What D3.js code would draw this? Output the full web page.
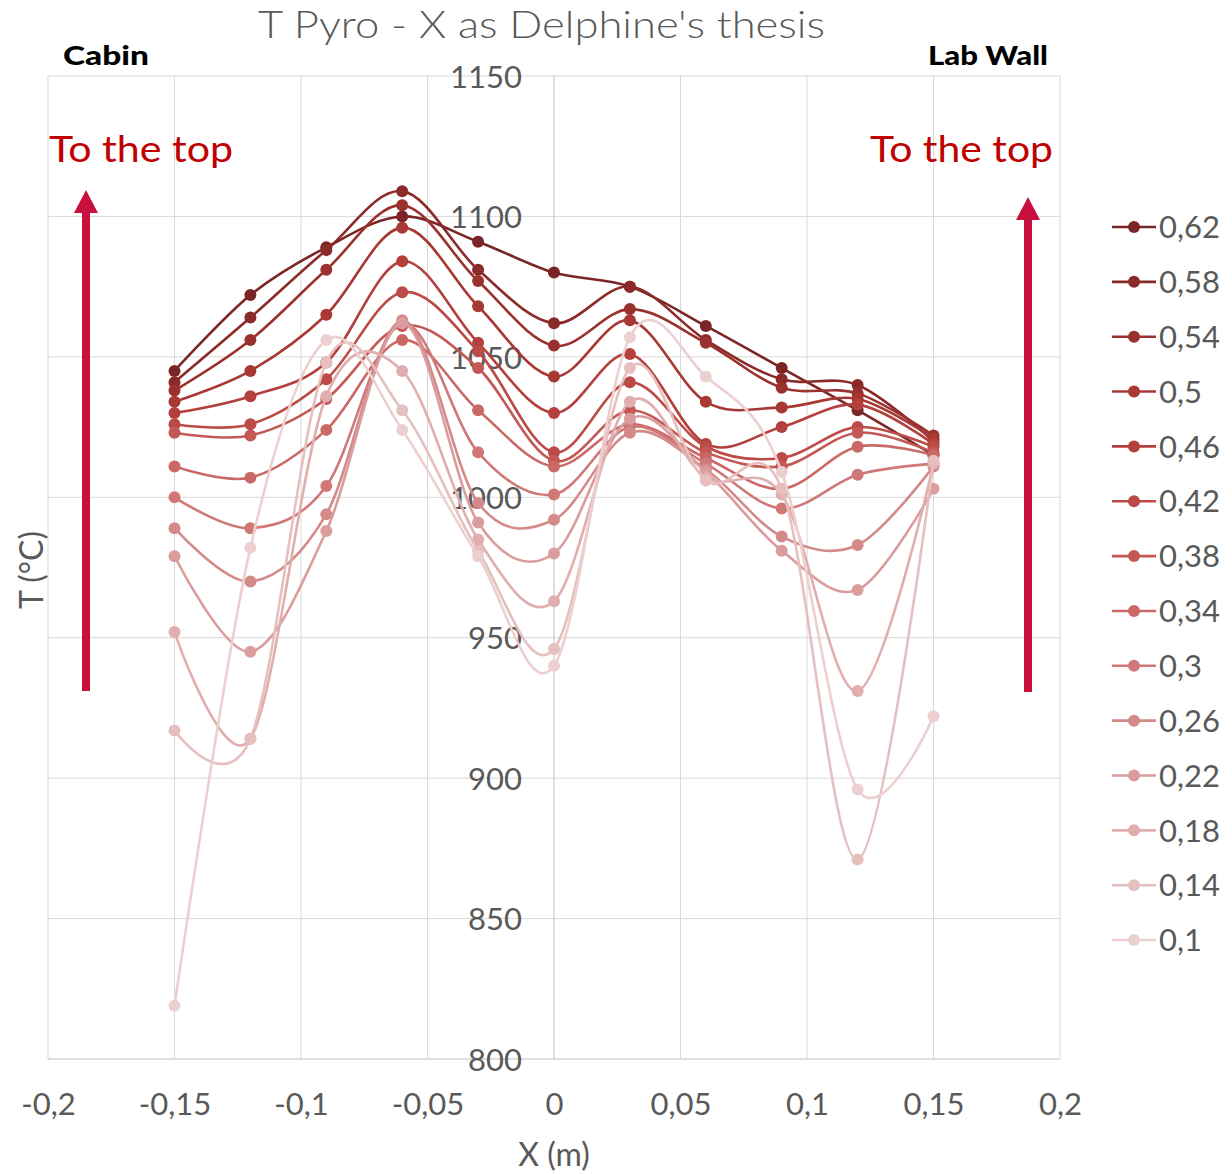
<!DOCTYPE html>
<html>
<head>
<meta charset="utf-8">
<script src="https://cdn.jsdelivr.net/npm/d3@7"></script>
<style>
  html, body { margin: 0; padding: 0; background: #fff; }
  svg { display: block; font-family: "Lato", "Noto Sans", sans-serif; }
</style>
</head>
<body>
<svg id="chart" width="1232" height="1174"></svg>
<script>
// Pyrometer temperature profiles across the furnace width, one curve per height (m)
const positions = [-0.15, -0.12, -0.09, -0.06, -0.03, 0, 0.03, 0.06, 0.09, 0.12, 0.15];

const heightLabels = ["0,62", "0,58", "0,54", "0,5", "0,46", "0,42", "0,38", "0,34", "0,3", "0,26", "0,22", "0,18", "0,14", "0,1"];

const t062 = [1045, 1072, 1089, 1100, 1091, 1080, 1075, 1061, 1046, 1031, 1015];
const t058 = [1041, 1064, 1088, 1109, 1081, 1062, 1075, 1056, 1042, 1040, 1020];
const t054 = [1038, 1056, 1081, 1104, 1077, 1054, 1067, 1055, 1039, 1037, 1022];
const t050 = [1034, 1045, 1065, 1096, 1068, 1043, 1063, 1034, 1032, 1035, 1021];
const t046 = [1030, 1036, 1048, 1084, 1055, 1030, 1051, 1019, 1025, 1033, 1019];
const t042 = [1026, 1026, 1042, 1073, 1052, 1016, 1041, 1018, 1014, 1025, 1018];
const t038 = [1023, 1022, 1035, 1061, 1046, 1013, 1031, 1016, 1011, 1023, 1016];
const t034 = [1011, 1007, 1024, 1056, 1031, 1011, 1026, 1014, 1003, 1018, 1015];
const t030 = [1000, 989, 1004, 1062, 1016, 1001, 1025, 1012, 996, 1008, 1012];
const t026 = [989, 970, 994, 1063, 998, 992, 1023, 1010, 986, 983, 1011];
const t022 = [979, 945, 988, 1062, 991, 980, 1028, 1009, 981, 967, 1003];
const t018 = [952, 914, 1036, 1045, 985, 963, 1034, 1007, 1001, 931, 1012];
const t014 = [917, 914, 1048, 1031, 981, 946, 1046, 1006, 1003, 871, 1013];
const t010 = [819, 982, 1056, 1024, 979, 940, 1057, 1043, 1009, 896, 922];

const seriesValues = [t062, t058, t054, t050, t046, t042, t038, t034, t030, t026, t022, t018, t014, t010];

const xTicks = [-0.2, -0.15, -0.1, -0.05, 0, 0.05, 0.1, 0.15, 0.2];
const yTicks = [800, 850, 900, 950, 1000, 1050, 1100, 1150];

const series = heightLabels.map((label, i) => ({
  label,
  points: positions.map((x, j) => ({ x, t: seriesValues[i][j] }))
}));

const svg = d3.select("#chart");

const x = d3.scaleLinear().domain([-0.2, 0.2]).range([48, 1060]);
const y = d3.scaleLinear().domain([800, 1150]).range([1059, 76]);

const colorRamp = d3.interpolateRgbBasis(["#7a2626", "#a5342f", "#c04a46", "#cf7474", "#dca4a4", "#ecd0d0"]);
const color = d3.scaleOrdinal()
  .domain(heightLabels)
  .range(heightLabels.map((d, i) => colorRamp(i / (heightLabels.length - 1))));

// Decimal comma with a plain hyphen for negatives
const fmtX = v => String(+v.toFixed(2)).replace(".", ",");

// Gridlines
const grid = svg.append("g");
grid.selectAll("line.h").data(yTicks).join("line")
  .attr("x1", x(-0.2)).attr("x2", x(0.2))
  .attr("y1", d => y(d)).attr("y2", d => y(d))
  .attr("stroke", d => d === 800 ? "#bfbfbf" : "#d9d9d9").attr("stroke-width", 1);
grid.selectAll("line.v").data(xTicks).join("line")
  .attr("x1", d => x(d)).attr("x2", d => x(d))
  .attr("y1", y(1150)).attr("y2", y(800))
  .attr("stroke", d => d === 0 ? "#bfbfbf" : "#d9d9d9").attr("stroke-width", 1);

// Y axis drawn at X = 0
const yAxis = d3.axisLeft(y).tickValues(yTicks).tickSize(0).tickPadding(32).tickFormat(d3.format("d"));
const yg = svg.append("g").attr("transform", `translate(${x(0)},0)`).call(yAxis);
yg.select(".domain").remove();
yg.selectAll("text").attr("font-size", 31).attr("fill", "#595959")
  .attr("font-family", "Lato, sans-serif").attr("dy", "0.36em");

// X axis along the bottom
const xAxis = d3.axisBottom(x).tickValues(xTicks).tickSize(0).tickPadding(34).tickFormat(fmtX);
const xg = svg.append("g").attr("transform", `translate(0,${y(800)})`).call(xAxis);
xg.select(".domain").remove();
xg.selectAll("text").attr("font-size", 31).attr("fill", "#595959")
  .attr("font-family", "Lato, sans-serif");

// Axis titles
svg.append("text").attr("x", x(0)).attr("y", 1166).attr("text-anchor", "middle")
  .attr("font-size", 32).attr("fill", "#595959").text("X (m)");
svg.append("text").attr("transform", "translate(43,570) rotate(-90)").attr("text-anchor", "middle")
  .attr("font-size", 32).attr("fill", "#595959").text("T (°C)");

// Chart title
svg.append("text").attr("x", 258).attr("y", 38)
  .attr("font-size", 38).attr("font-weight", 300).attr("fill", "#595959")
  .attr("textLength", 567).attr("lengthAdjust", "spacingAndGlyphs")
  .text("T Pyro - X as Delphine's thesis");

// Side labels
svg.append("text").attr("x", 63).attr("y", 65).attr("font-size", 27).attr("font-weight", 900)
  .attr("fill", "#000").attr("textLength", 86).attr("lengthAdjust", "spacingAndGlyphs").text("Cabin");
svg.append("text").attr("x", 928).attr("y", 65).attr("font-size", 27).attr("font-weight", 900)
  .attr("fill", "#000").attr("textLength", 120).attr("lengthAdjust", "spacingAndGlyphs").text("Lab Wall");

svg.append("text").attr("x", 49).attr("y", 162).attr("font-size", 37).attr("fill", "#c00000")
  .attr("textLength", 184).attr("lengthAdjust", "spacingAndGlyphs").text("To the top");
svg.append("text").attr("x", 870).attr("y", 162).attr("font-size", 37).attr("fill", "#c00000")
  .attr("textLength", 183).attr("lengthAdjust", "spacingAndGlyphs").text("To the top");

// Upward arrows
function arrow(cx, tip, base) {
  const g = svg.append("g");
  g.append("rect").attr("x", cx - 4).attr("y", tip + 18).attr("width", 8).attr("height", base - tip - 18)
    .attr("fill", "#c8103e");
  g.append("path").attr("d", `M${cx},${tip} L${cx + 12},${tip + 23} L${cx - 12},${tip + 23} Z`)
    .attr("fill", "#c8103e");
}
arrow(86, 190, 691);
arrow(1028, 197, 692);

// Smoothed lines and markers
const line = d3.line()
  .x(d => x(d.x)).y(d => y(d.t))
  .curve(d3.curveCardinal.tension(0));

const plot = svg.append("g");
series.forEach(s => {
  const g = plot.append("g");
  g.append("path").datum(s.points)
    .attr("d", line).attr("fill", "none")
    .attr("stroke", color(s.label)).attr("stroke-width", 2.6);
  g.selectAll("circle").data(s.points).join("circle")
    .attr("cx", d => x(d.x)).attr("cy", d => y(d.t)).attr("r", 6)
    .attr("fill", color(s.label));
});

// Legend
const legend = svg.append("g");
const items = legend.selectAll("g").data(heightLabels).join("g")
  .attr("transform", (d, i) => `translate(0,${227 + i * 54.85})`);
items.append("line").attr("x1", 1112).attr("x2", 1156).attr("y1", 0).attr("y2", 0)
  .attr("stroke", d => color(d)).attr("stroke-width", 2.6);
items.append("circle").attr("cx", 1134).attr("cy", 0).attr("r", 6).attr("fill", d => color(d));
items.append("text").attr("x", 1159).attr("y", 0).attr("dy", "0.36em")
  .attr("font-size", 31).attr("fill", "#595959").text(d => d);
</script>
</body>
</html>
